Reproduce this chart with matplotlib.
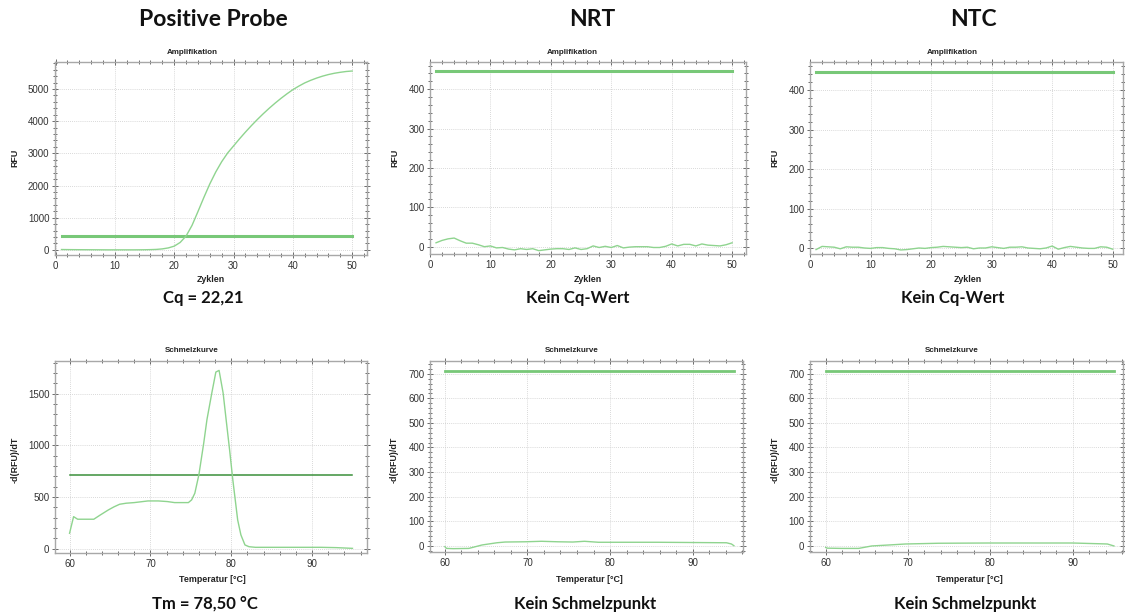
import matplotlib
matplotlib.use("Agg")
import matplotlib.pyplot as plt
from matplotlib.ticker import MultipleLocator

# ---------------- data ----------------
cycles = list(range(1, 51))
amp_positive = [10, 8, 6, 5, 4, 3, 2, 1, 0, 0, 0, 0, 0, 1, 3, 7, 14, 30, 60, 115,
                230, 430, 760, 1190, 1630, 2050, 2420, 2740, 3010, 3230,
                3450, 3660, 3860, 4050, 4230, 4400, 4560, 4710, 4850, 4980,
                5090, 5190, 5270, 5340, 5400, 5450, 5490, 5520, 5545, 5560]
amp_nrt = [10, 16, 20, 22, 15, 9, 9, 5, 0, 2, -3, -2, -6, -8, -5, -7, -5, -10, -8, -6,
           -5, -5, -7, -3, -7, -5, 2, -2, 1, -2, 3, -3, -1, 0, 0, 0, -2, -2, 1, 7,
           2, 6, 6, 2, 7, 4, 3, 2, 5, 10]
amp_ntc = [-4, 4, 3, 2, -2, 3, 2, 2, 0, -1, 1, 1, -1, -2, -5, -4, -2, 0, -1, 1,
           2, 4, 3, 2, 1, 2, -2, 0, 0, 3, 1, -1, 2, 2, 3, 0, -1, -2, 0, 5,
           -3, 1, 4, 2, 0, -1, -1, 3, 2, -3]
amp_threshold = 445

melt_temp_pos = [60.0, 60.5, 61.0, 62.0, 63.0, 63.8, 64.8, 65.5, 66.2, 67.0, 68.0, 69.7,
                 71.0, 72.1, 73.0, 74.4, 74.7, 75.1, 75.5, 76.0, 76.6, 77.0, 77.6, 78.1,
                 78.5, 79.0, 79.4, 79.8, 80.2, 80.8, 81.2, 81.7, 82.2, 83.0, 86.0, 91.1, 93.0, 95.0]
melt_pos = [149, 310, 285, 285, 285, 326, 375, 405, 430, 440, 446, 462,
            462, 456, 446, 446, 446, 472, 537, 715, 1022, 1250, 1507, 1710,
            1726, 1507, 1230, 957, 666, 278, 133, 36, 19, 13, 13, 13, 10, 3]
melt_temp_nrt = [60.0, 60.2, 61.0, 62.9, 64.5, 66.3, 67.3, 69.7, 71.7, 73.7, 75.5, 76.9,
                 78.6, 82.0, 85.8, 90.0, 94.1, 94.7, 95.0]
melt_nrt = [-4, -11, -12, -11, 3, 12, 15, 16, 18, 16, 15, 18,
            14, 14, 14, 13, 12, 7, 0]
melt_temp_ntc = [60.0, 60.2, 62.0, 64.0, 65.6, 67.7, 69.7, 73.7, 79.8, 85.9, 90.0, 93.2, 94.2, 95.0]
melt_ntc = [-7, -10, -11, -11, -1, 3, 7, 10, 11, 11, 11, 8, 7, -1]
melt_threshold = 712

col_titles = ["Positive Probe", "NRT", "NTC"]
amp_results = ["Cq = 22,21", "Kein Cq-Wert", "Kein Cq-Wert"]
melt_results = ["Tm = 78,50 °C", "Kein Schmelzpunkt", "Kein Schmelzpunkt"]

# ---------------- layout ----------------
W, H = 1125, 616
fig = plt.figure(figsize=(W / 100, H / 100), dpi=100)
fig.patch.set_facecolor("white")


def axes_px(l, t, r, b):
    return fig.add_axes([l / W, 1 - b / H, (r - l) / W, (b - t) / H])


def ftext(x, y, s, **kw):
    fig.text(x / W, 1 - y / H, s, ha="center", va="center", **kw)


curve_col = "#8fd48f"
thr_light = "#78c878"
thr_dark = "#3a8f3a"
spine_col = "#a8a8a8"


def style(ax, xmaj, xmin, ymaj, ymin):
    ax.xaxis.set_major_locator(MultipleLocator(xmaj))
    ax.xaxis.set_minor_locator(MultipleLocator(xmin))
    ax.yaxis.set_major_locator(MultipleLocator(ymaj))
    ax.yaxis.set_minor_locator(MultipleLocator(ymin))
    for s in ax.spines.values():
        s.set_color(spine_col)
        s.set_linewidth(1.0)
    ax.tick_params(which="both", direction="inout", top=True, right=True,
                   color="#555555", width=0.6)
    ax.tick_params(which="major", length=4, labelsize=7.0, labelcolor="#333333", pad=2)
    ax.tick_params(which="minor", length=2.5)
    ax.tick_params(top=True, right=True, labeltop=False, labelright=False)
    ax.grid(True, which="major", linestyle=(0, (1, 1.5)), color="#cccccc", linewidth=0.6)
    ax.set_axisbelow(True)
    for lab in ax.get_xticklabels() + ax.get_yticklabels():
        lab.set_fontfamily("Liberation Sans")


big_font = dict(family="Lato", weight="bold", color="#111111")
small_font = dict(family="Liberation Sans", weight="bold", color="#222222")

# amplification row
amp_boxes = [(55, 62, 367, 255), (430, 62, 746, 254), (810, 62, 1123, 254)]
amp_data = [amp_positive, amp_nrt, amp_ntc]
amp_ylims = [(-160, 5840), (-18.5, 469), (-15.2, 471)]
amp_xlims = [(-0.1, 52.5), (0, 52.3), (0, 51.7)]
amp_ymaj = [(1000, 200), (100, 20), (100, 20)]
amp_title_x = [192, 572, 952]
amp_xlabel_x = [211, 588, 968]
amp_ylabel_x = [15, 395, 775]
col_title_x = [213, 592, 973]
amp_res_x = [203, 578, 953]

for i in range(3):
    ax = axes_px(*amp_boxes[i])
    ax.plot(cycles, [amp_threshold] * len(cycles), color=thr_light, lw=2.2, zorder=3)
    ax.plot(cycles, amp_data[i], color=curve_col, lw=1.0, zorder=4)
    ax.set_xlim(*amp_xlims[i])
    ax.set_ylim(*amp_ylims[i])
    style(ax, 10, 2, *amp_ymaj[i])
    ftext(col_title_x[i], 20, col_titles[i], fontsize=16.5, **big_font)
    ftext(amp_title_x[i], 53, "Amplifikation", fontsize=5.8, **small_font)
    ftext(amp_xlabel_x[i], 280, "Zyklen", fontsize=6.4, **small_font)
    ftext(amp_ylabel_x[i], 158, "RFU", fontsize=6.4, rotation=90, **small_font)
    ftext(amp_res_x[i], 298, amp_results[i], fontsize=12, **big_font)

# melt row
melt_boxes = [(55, 361, 367, 553), (430, 361, 743, 552), (810, 361, 1123, 552)]
melt_x = [melt_temp_pos, melt_temp_nrt, melt_temp_ntc]
melt_y = [melt_pos, melt_nrt, melt_ntc]
melt_ylims = [(-42, 1817), (-25.6, 752), (-25.6, 752)]
melt_xlims = [(58.2, 96.8), (58.2, 96.1), (58.1, 96.1)]
melt_ymaj = [(500, 100), (100, 20), (100, 20)]
melt_thr_style = [(thr_dark, 1.1), (thr_light, 2.0), (thr_light, 2.0)]
melt_title_x = [192, 572, 952]
melt_xlabel_x = [212, 589, 969]
melt_ylabel_x = [15, 394, 775]
melt_res_x = [205, 585, 965]

for i in range(3):
    ax = axes_px(*melt_boxes[i])
    c, lw = melt_thr_style[i]
    ax.plot([60, 95], [melt_threshold, melt_threshold], color=c, lw=lw, zorder=3)
    ax.plot(melt_x[i], melt_y[i], color=curve_col, lw=1.0, zorder=4)
    ax.set_xlim(*melt_xlims[i])
    ax.set_ylim(*melt_ylims[i])
    style(ax, 10, 2, *melt_ymaj[i])
    ftext(melt_title_x[i], 351, "Schmelzkurve", fontsize=5.8, **small_font)
    ftext(melt_xlabel_x[i], 579, "Temperatur [°C]", fontsize=6.4, **small_font)
    ftext(melt_ylabel_x[i], 460, "-d(RFU)/dT", fontsize=6.4, rotation=90, **small_font)
    ftext(melt_res_x[i], 604, melt_results[i], fontsize=12, **big_font)

fig.savefig("out.png", dpi=100, facecolor="white")
